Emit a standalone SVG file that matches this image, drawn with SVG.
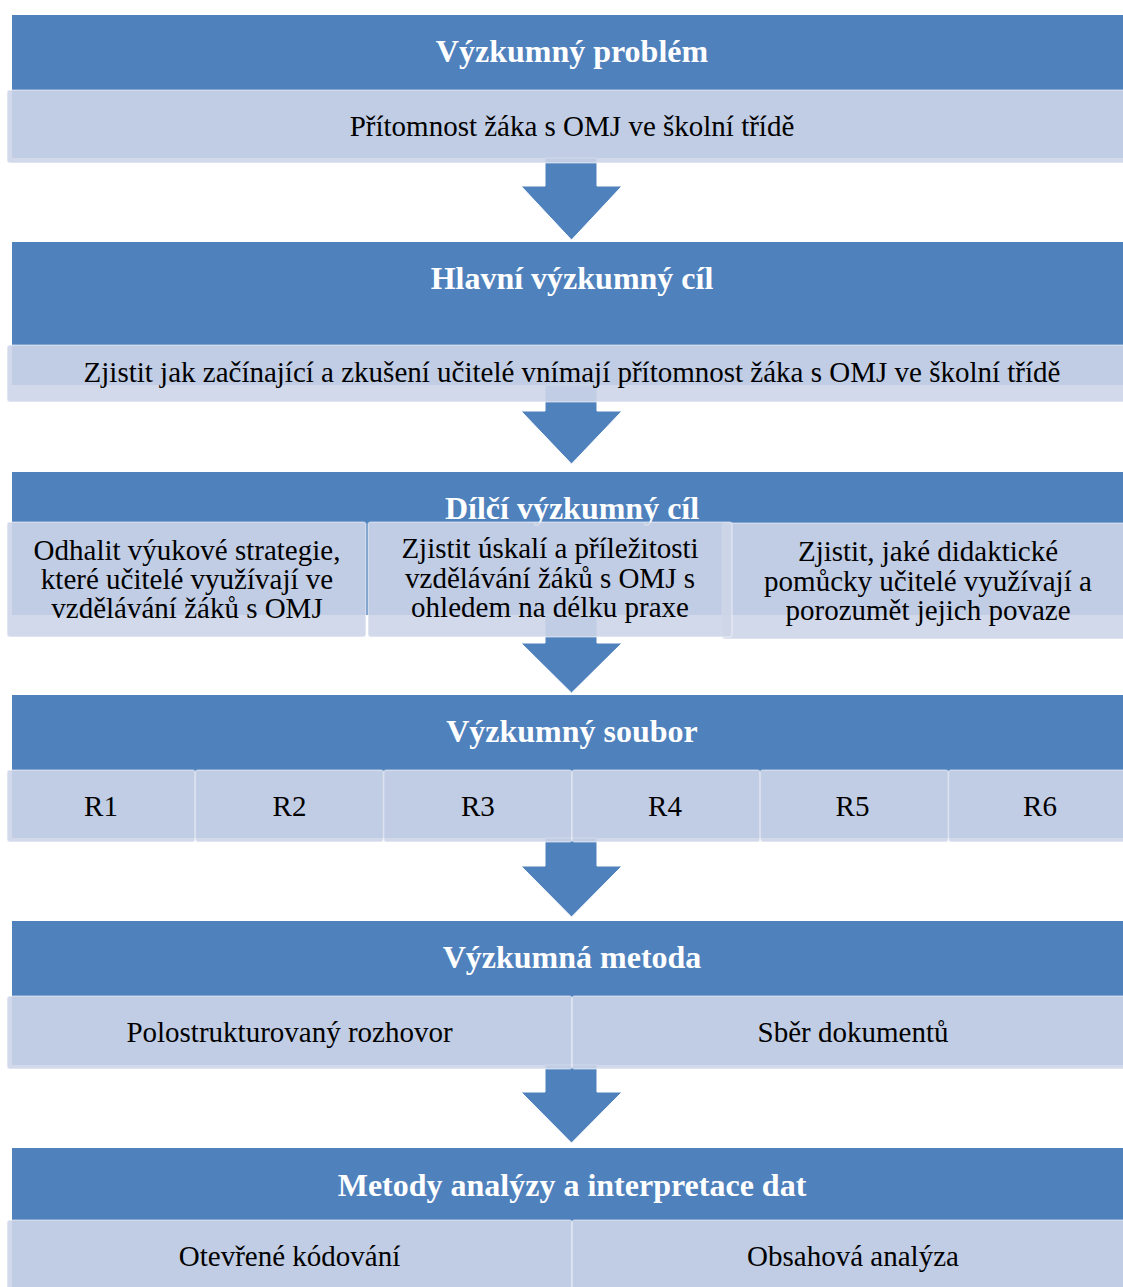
<svg xmlns="http://www.w3.org/2000/svg" width="1123" height="1287" viewBox="0 0 1123 1287">
<style>
.hdr{fill:#4f81bd}
.box{fill:#cdd5e8;fill-opacity:0.9;stroke:#ffffff;stroke-opacity:0.4;stroke-width:1.5}
.arr{fill:#4f81bd;stroke:#ffffff;stroke-width:1}
.ht{font-family:"Liberation Serif","Times New Roman",serif;font-weight:bold;font-size:32px;fill:#ffffff;text-anchor:middle}
.bt{font-family:"Liberation Serif","Times New Roman",serif;font-size:29px;fill:#000000;text-anchor:middle}
</style>
<rect width="1123" height="1287" fill="#ffffff"/>
<g id="headers">
<g id="h1"><rect class="hdr" x="12" y="15" width="1120" height="143"/><text class="ht" x="572" y="62">Výzkumný problém</text></g>
<g id="h2"><rect class="hdr" x="12" y="242" width="1120" height="143"/><text class="ht" x="572" y="289">Hlavní výzkumný cíl</text></g>
<g id="h3"><rect class="hdr" x="12" y="472" width="1120" height="143"/><text class="ht" x="572" y="519">Dílčí výzkumný cíl</text></g>
<g id="h4"><rect class="hdr" x="12" y="695" width="1120" height="143"/><text class="ht" x="572" y="742">Výzkumný soubor</text></g>
<g id="h5"><rect class="hdr" x="12" y="921" width="1120" height="144"/><text class="ht" x="572" y="968">Výzkumná metoda</text></g>
<g id="h6"><rect class="hdr" x="12" y="1148" width="1120" height="150"/><text class="ht" x="572" y="1196">Metody analýzy a interpretace dat</text></g>
</g>
<g id="connectors">
<path class="arr" d="M545,158 H597 V186 H622 L571.5,240 L521,186 H545 Z"/>
<path class="arr" d="M545,385 H597 V411 H622 L571.5,464 L521,411 H545 Z"/>
<path class="arr" d="M545,615 H597 V643 H622 L571.5,693 L521,643 H545 Z"/>
<path class="arr" d="M545,838 H597 V866 H622 L571.5,917 L521,866 H545 Z"/>
<path class="arr" d="M545,1065 H597 V1092 H622 L571.5,1143 L521,1092 H545 Z"/>
</g>
<g id="b1"><rect class="box" x="7" y="90" width="1130" height="73" rx="3"/><text class="bt" x="572" y="136">Přítomnost žáka s OMJ ve školní třídě</text></g>
<g id="b2"><rect class="box" x="7" y="345" width="1130" height="57" rx="3"/><text class="bt" x="572" y="382">Zjistit jak začínající a zkušení učitelé vnímají přítomnost žáka s OMJ ve školní třídě</text></g>
<g id="d1"><rect class="box" x="7" y="522" width="359" height="115" rx="3"/><text class="bt" x="187"><tspan x="187" y="560">Odhalit výukové strategie,</tspan><tspan x="187" y="589">které učitelé využívají ve</tspan><tspan x="187" y="618">vzdělávání žáků s OMJ</tspan></text></g>
<g id="d3"><rect class="box" x="722" y="523" width="412" height="116" rx="3"/><text class="bt" x="928"><tspan x="928" y="561">Zjistit, jaké didaktické</tspan><tspan x="928" y="591">pomůcky učitelé využívají a</tspan><tspan x="928" y="620">porozumět jejich povaze</tspan></text></g>
<g id="d2"><rect class="box" x="368" y="522" width="364" height="115" rx="3"/><text class="bt" x="550"><tspan x="550" y="558">Zjistit úskalí a příležitosti</tspan><tspan x="550" y="588">vzdělávání žáků s OMJ s</tspan><tspan x="550" y="617">ohledem na délku praxe</tspan></text></g>
<g id="r1"><rect class="box" x="7" y="770" width="188.3" height="72" rx="3"/><text class="bt" x="101" y="816">R1</text></g>
<g id="r2"><rect class="box" x="195.3" y="770" width="188.3" height="72" rx="3"/><text class="bt" x="289.5" y="816">R2</text></g>
<g id="r3"><rect class="box" x="383.6" y="770" width="188.3" height="72" rx="3"/><text class="bt" x="477.8" y="816">R3</text></g>
<g id="r4"><rect class="box" x="571.9" y="770" width="188.3" height="72" rx="3"/><text class="bt" x="665" y="816">R4</text></g>
<g id="r5"><rect class="box" x="760.2" y="770" width="188.3" height="72" rx="3"/><text class="bt" x="852.5" y="816">R5</text></g>
<g id="r6"><rect class="box" x="948.5" y="770" width="188.3" height="72" rx="3"/><text class="bt" x="1040" y="816">R6</text></g>
<g id="m1"><rect class="box" x="7" y="996" width="565" height="73" rx="3"/><text class="bt" x="289.5" y="1042">Polostrukturovaný rozhovor</text></g>
<g id="m2"><rect class="box" x="572" y="996" width="565" height="73" rx="3"/><text class="bt" x="853" y="1042">Sběr dokumentů</text></g>
<g id="a1"><rect class="box" x="7" y="1220" width="565" height="80" rx="3"/><text class="bt" x="289.5" y="1266">Otevřené kódování</text></g>
<g id="a2"><rect class="box" x="572" y="1220" width="565" height="80" rx="3"/><text class="bt" x="853" y="1266">Obsahová analýza</text></g>
</svg>
